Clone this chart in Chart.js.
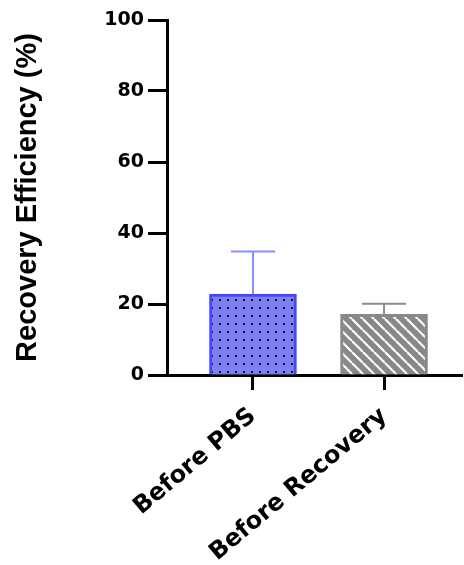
<!DOCTYPE html>
<html><head><meta charset="utf-8">
<script src="https://cdn.jsdelivr.net/npm/chart.js@4.4.0/dist/chart.umd.min.js"></script>
<style>html,body{margin:0;padding:0;background:#fff}#wrap{width:464px;height:565px}</style>
</head><body><div id="wrap"><canvas id="c" width="464" height="565"></canvas></div>
<script>
const categories = ["Before PBS", "Before Recovery"];
const means = [22.8, 17.1];
const errors = [12.0, 3.0];
const yTicks = [0, 20, 40, 60, 80, 100];

function dotPattern(){
  const c=document.createElement('canvas');c.width=8;c.height=8;
  const x=c.getContext('2d');
  x.fillStyle='#7f7ff6';x.fillRect(0,0,8,8);
  x.fillStyle='#111';x.fillRect(3,3,2,2);
  return x.createPattern(c,'repeat');
}
function stripePattern(){
  const s=11;
  const c=document.createElement('canvas');c.width=s;c.height=s;
  const x=c.getContext('2d');
  x.fillStyle='#888888';x.fillRect(0,0,s,s);
  x.strokeStyle='#ffffff';x.lineWidth=2.2;
  for(let k=-1;k<=1;k++){x.beginPath();x.moveTo(k*s,0);x.lineTo(k*s+s,s);x.stroke();}
  return x.createPattern(c,'repeat');
}

const errPlugin={id:'err',afterDatasetsDraw(chart){
  const ctx=chart.ctx, xs=chart.scales.x, ys=chart.scales.y;
  const cols=['#8c8cff','#8c8c8c'];
  means.forEach((m,i)=>{
    const px=xs.getPixelForValue(i), y0=ys.getPixelForValue(m), y1=ys.getPixelForValue(m+errors[i]);
    ctx.save();ctx.strokeStyle=cols[i];ctx.lineWidth=2;
    ctx.beginPath();ctx.moveTo(px,y0);ctx.lineTo(px,y1);ctx.moveTo(px-22,y1);ctx.lineTo(px+22,y1);ctx.stroke();
    ctx.restore();
  });
}};

new Chart(document.getElementById('c'),{
  type:'bar',
  data:{datasets:[{
    data:means.map((v,i)=>({x:i,y:v})),
    backgroundColor:[dotPattern(),stripePattern()],
    borderColor:['#4646ff','#888888'],
    borderWidth:3,
    borderSkipped:'bottom',
    barThickness:87
  }]},
  options:{
    responsive:false,animation:false,
    layout:{padding:{left:11,right:2,top:20,bottom:0}},
    plugins:{legend:{display:false},tooltip:{enabled:false}},
    scales:{
      x:{type:'linear',min:-0.656,max:1.595,offset:false,
        afterBuildTicks:s=>{s.ticks=categories.map((c,i)=>({value:i}));},
        afterFit:s=>{s.height=190;},
        ticks:{callback:v=>categories[v]??'',maxRotation:40,minRotation:40,autoSkip:false,
          color:'#000',font:{family:'DejaVu Sans',size:24,weight:'bold'},padding:12},
        grid:{offset:false,drawOnChartArea:false,drawTicks:true,tickLength:15,tickWidth:3,tickColor:'#000'},
        border:{display:true,width:3,color:'#000'}
      },
      y:{min:0,max:100,
        afterBuildTicks:s=>{s.ticks=yTicks.map(v=>({value:v}));},
        afterFit:s=>{s.width=156;},
        ticks:{color:'#000',font:{family:'DejaVu Sans',size:19,weight:'bold'},padding:4},
        grid:{drawOnChartArea:false,drawTicks:true,tickLength:19,tickWidth:3,tickColor:'#000'},
        border:{display:true,width:3,color:'#000'},
        title:{display:true,text:'Recovery Efficiency (%)',color:'#000',
          font:{family:'Liberation Sans, Arial',size:29,weight:'bold'},padding:0}
      }
    }
  },
  plugins:[errPlugin]
});
</script></body></html>
